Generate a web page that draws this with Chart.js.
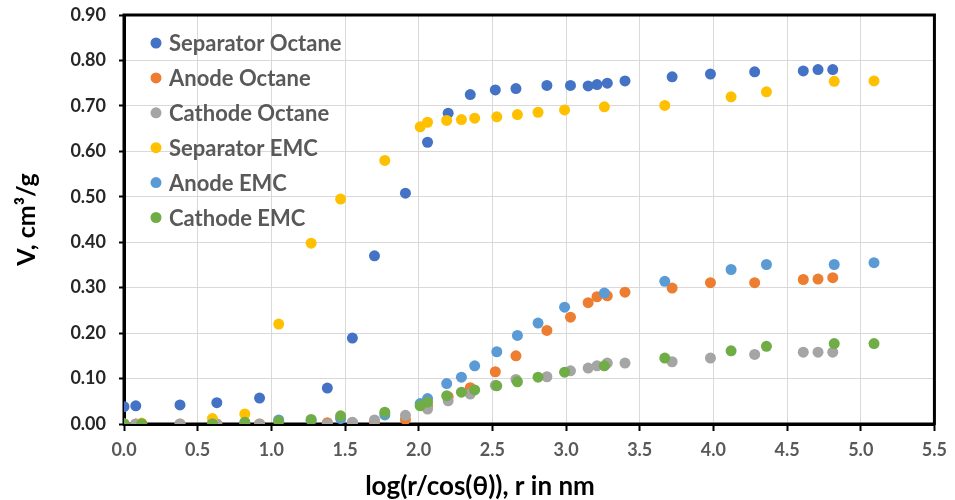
<!DOCTYPE html>
<html>
<head>
<meta charset="utf-8">
<script src="https://cdn.jsdelivr.net/npm/chart.js@4/dist/chart.umd.min.js"></script>
<style>
  html, body { margin: 0; padding: 0; background: #fff; }
  #wrap { width: 955px; height: 500px; }
</style>
</head>
<body>
<div id="wrap"><canvas id="myChart" width="955" height="500"></canvas></div>
<script>
// series labels + colours (Excel default palette)
var seriesNames = ['Separator Octane', 'Anode Octane', 'Cathode Octane', 'Separator EMC', 'Anode EMC', 'Cathode EMC'];
var seriesColors = ['#4472C4', '#ED7D31', '#A5A5A5', '#FFC000', '#5B9BD5', '#70AD47'];

// Octane runs share one set of x values
var octX = [0.00, 0.08, 0.38, 0.63, 0.92, 1.38, 1.55, 1.70, 1.91, 2.06, 2.20, 2.35, 2.52, 2.66, 2.87, 3.03, 3.15, 3.21, 3.28, 3.40, 3.72, 3.98, 4.28, 4.61, 4.71, 4.81];
var sepOctY = [0.038, 0.040, 0.042, 0.047, 0.057, 0.079, 0.189, 0.370, 0.508, 0.620, 0.684, 0.725, 0.735, 0.738, 0.745, 0.745, 0.744, 0.747, 0.750, 0.755, 0.764, 0.770, 0.775, 0.777, 0.780, 0.780];
var anOctY = [0.000, 0.000, 0.000, 0.000, 0.000, 0.003, 0.003, 0.003, 0.010, 0.040, 0.060, 0.080, 0.115, 0.150, 0.206, 0.235, 0.267, 0.280, 0.282, 0.290, 0.299, 0.311, 0.311, 0.318, 0.319, 0.322];
var catOctY = [0.000, 0.000, 0.000, 0.000, 0.000, 0.000, 0.004, 0.009, 0.019, 0.033, 0.051, 0.066, 0.085, 0.098, 0.104, 0.117, 0.123, 0.128, 0.134, 0.134, 0.137, 0.145, 0.153, 0.158, 0.158, 0.158];

// EMC runs share another set
var emcX = [0.00, 0.12, 0.60, 0.82, 1.05, 1.27, 1.47, 1.77, 2.01, 2.06, 2.19, 2.29, 2.38, 2.53, 2.67, 2.81, 2.99, 3.26, 3.67, 4.12, 4.36, 4.82, 5.09];
var sepEmcY = [0.000, 0.002, 0.012, 0.022, 0.220, 0.398, 0.495, 0.580, 0.654, 0.664, 0.668, 0.670, 0.673, 0.676, 0.681, 0.686, 0.691, 0.698, 0.701, 0.720, 0.731, 0.754, 0.755];
var anEmcY = [0.000, 0.000, 0.000, 0.002, 0.009, 0.008, 0.012, 0.020, 0.045, 0.056, 0.089, 0.103, 0.128, 0.159, 0.195, 0.222, 0.257, 0.288, 0.314, 0.340, 0.351, 0.351, 0.355];
var catEmcY = [0.000, 0.000, 0.000, 0.004, 0.006, 0.010, 0.018, 0.026, 0.040, 0.048, 0.062, 0.070, 0.075, 0.084, 0.093, 0.103, 0.114, 0.128, 0.145, 0.161, 0.171, 0.177, 0.177];

var xTitle = 'log(r/cos(\u03B8)), r in nm';
var yTitle = 'V, cm\u00B3/g';

var FONT = 'Lato, "Open Sans", sans-serif';

function toPoints(xs, ys){
    var pts = [];
    for (var i = 0; i < xs.length; i++) pts.push({x: xs[i], y: ys[i]});
    return pts;
}

var allX = [octX, octX, octX, emcX, emcX, emcX];
var allY = [sepOctY, anOctY, catOctY, sepEmcY, anEmcY, catEmcY];

var datasets = [];
for (var i = 0; i < seriesNames.length; i++) {
    datasets.push({
        label: seriesNames[i],
        data: toPoints(allX[i], allY[i]),
        backgroundColor: seriesColors[i],
        borderColor: seriesColors[i],
        borderWidth: 0,
        pointRadius: 5.5,
        pointHoverRadius: 5.5,
        order: seriesNames.length - i   // later series on top, like Excel
    });
}

// black frame around the plot area
var frame = {
    id: 'frame',
    beforeDatasetsDraw: function(chart){
        var a = chart.chartArea, c = chart.ctx;
        c.save();
        c.strokeStyle = '#000';
        c.lineWidth = 3;
        c.strokeRect(a.left, a.top, a.right - a.left, a.bottom - a.top);
        c.restore();
    }
};

// legend inside the plot (top left) and the x title, which sits a bit left of centre in the original
var extras = {
    id: 'extras',
    afterDatasetsDraw: function(chart){
        var a = chart.chartArea, c = chart.ctx;
        c.save();
        c.font = 'bold 22px ' + FONT;
        c.textBaseline = 'middle';
        c.textAlign = 'left';
        for (var i = 0; i < seriesNames.length; i++) {
            var y = a.top + 28 + i * 34.9;
            c.beginPath();
            c.arc(a.left + 32, y, 5.5, 0, Math.PI * 2);
            c.fillStyle = seriesColors[i];
            c.fill();
            c.fillStyle = '#595959';
            c.fillText(seriesNames[i], a.left + 45, y + 1);
        }
        c.font = 'bold 26px ' + FONT;
        c.textAlign = 'center';
        c.fillStyle = '#000';
        c.fillText(xTitle, a.left + 356, a.bottom + 63);
        c.restore();
    }
};

var chart = new Chart(document.getElementById('myChart'), {
    type: 'scatter',
    data: { datasets: datasets },
    options: {
        responsive: false,
        animation: false,
        layout: { padding: { top: 15, right: 17, left: 0, bottom: 0 } },
        plugins: {
            legend: { display: false },
            tooltip: { enabled: false }
        },
        scales: {
            x: {
                type: 'linear',
                min: 0, max: 5.5,
                afterFit: function(s){ s.height = 76; },
                border: { color: '#000', width: 3 },
                grid: { color: '#D9D9D9', lineWidth: 1, tickColor: '#000', tickLength: 7, tickWidth: 2 },
                ticks: {
                    stepSize: 0.5,
                    padding: 8,
                    color: '#595959',
                    font: { family: FONT, size: 18, weight: 'bold' },
                    callback: function(v){ return v.toFixed(1); }
                }
            },
            y: {
                type: 'linear',
                min: 0, max: 0.9,
                afterFit: function(s){ s.width = 124; s.paddingTop = 0; s.paddingBottom = 0; },
                border: { color: '#000', width: 3 },
                grid: { color: '#D9D9D9', lineWidth: 1, tickColor: '#000', tickLength: 5, tickWidth: 2 },
                ticks: {
                    stepSize: 0.1,
                    padding: 13,
                    color: '#262626',
                    font: { family: FONT, size: 18, weight: 'bold' },
                    callback: function(v){ return v.toFixed(2); }
                },
                title: {
                    display: true,
                    text: yTitle,
                    color: '#000',
                    font: { family: FONT, size: 25, weight: 'bold' },
                    padding: { top: 12, bottom: 0 }
                }
            }
        }
    },
    plugins: [frame, extras]
});
</script>
</body>
</html>
